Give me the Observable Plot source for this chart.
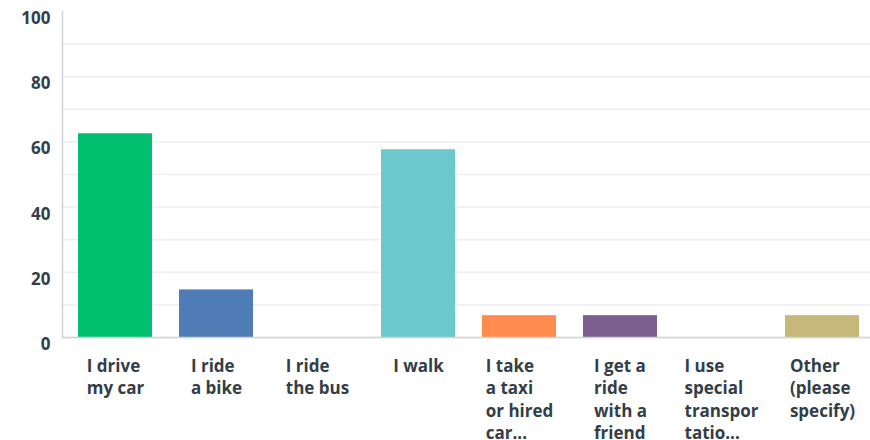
<!DOCTYPE html>
<html>
<head>
<meta charset="utf-8">
<script src="https://cdn.jsdelivr.net/npm/d3@7"></script>
<script src="https://cdn.jsdelivr.net/npm/@observablehq/plot@0.6"></script>
<style>
  html, body { margin: 0; padding: 0; background: #fff; }
</style>
</head>
<body>
<div id="chart"></div>
<script>
const categories = [
  "I drive my car", "I ride a bike", "I ride the bus", "I walk",
  "I take a taxi or hired car...", "I get a ride with a friend",
  "I use special transportatio...", "Other (please specify)"
];
const tickLabels = [
  "I drive\nmy car", "I ride\na bike", "I ride\nthe bus", "I walk",
  "I take\na taxi\nor hired\ncar...", "I get a\nride\nwith a\nfriend",
  "I use\nspecial\ntranspor\ntatio...", "Other\n(please\nspecify)"
];
const values = [62.5, 14.6, 0, 57.6, 6.7, 6.7, 0, 6.7];
const colors = ["#00BF6F", "#507CB6", "#6BC8CD", "#6BC8CD", "#FF8B4F", "#7D5E90", "#7D5E90", "#C7B879"];
const yTicks = [0, 20, 40, 60, 80, 100];
const gridTicks = [0, 10, 20, 30, 40, 50, 60, 70, 80, 90];

const data = categories.map((c, i) => ({category: c, value: values[i]}));
const labelOf = new Map(categories.map((c, i) => [c, tickLabels[i]]));

const plot = Plot.plot({
  width: 870,
  height: 440,
  marginTop: 11,
  marginBottom: 103,
  marginLeft: 62,
  marginRight: -4,
  style: {fontFamily: "'Open Sans', sans-serif", fontSize: "17px", color: "#333E48", background: "#fff"},
  x: {domain: categories, paddingInner: 0.27, paddingOuter: 0.15, label: null},
  y: {domain: [0, 100], label: null},
  color: {domain: categories, range: colors},
  marks: [
    Plot.gridY(gridTicks, {stroke: "#EDEEEE", strokeOpacity: 1, strokeWidth: 1.5}),
    Plot.barY(data, {x: "category", y: "value", fill: "category"}),
    Plot.ruleY([0], {stroke: "#D0D2D3", strokeWidth: 1.5}),
    Plot.frame({anchor: "left", stroke: "#D0D2D3", strokeWidth: 1.5}),
    Plot.axisY(yTicks, {tickSize: 0, tickPadding: 12, dy: 7, fontWeight: 700, fontSize: 17, fill: "#333E48"}),
    Plot.axisX({tickSize: 0, tickPadding: 18, tickFormat: d => labelOf.get(d), lineHeight: 1.33, fontWeight: 700, fontSize: 17, fill: "#333E48"})
  ]
});

document.getElementById("chart").appendChild(plot);

// Left-align lines within each tick label block while keeping block centred under its bar
plot.querySelectorAll('g[aria-label="x-axis tick label"] text').forEach(t => {
  const spans = t.querySelectorAll("tspan");
  if (!spans.length) {
    const w = t.getComputedTextLength();
    t.setAttribute("text-anchor", "start");
    t.setAttribute("x", -w / 2);
    return;
  }
  let maxW = 0;
  spans.forEach(s => { maxW = Math.max(maxW, s.getComputedTextLength()); });
  t.setAttribute("text-anchor", "start");
  spans.forEach(s => s.setAttribute("x", -maxW / 2));
});
</script>
</body>
</html>
